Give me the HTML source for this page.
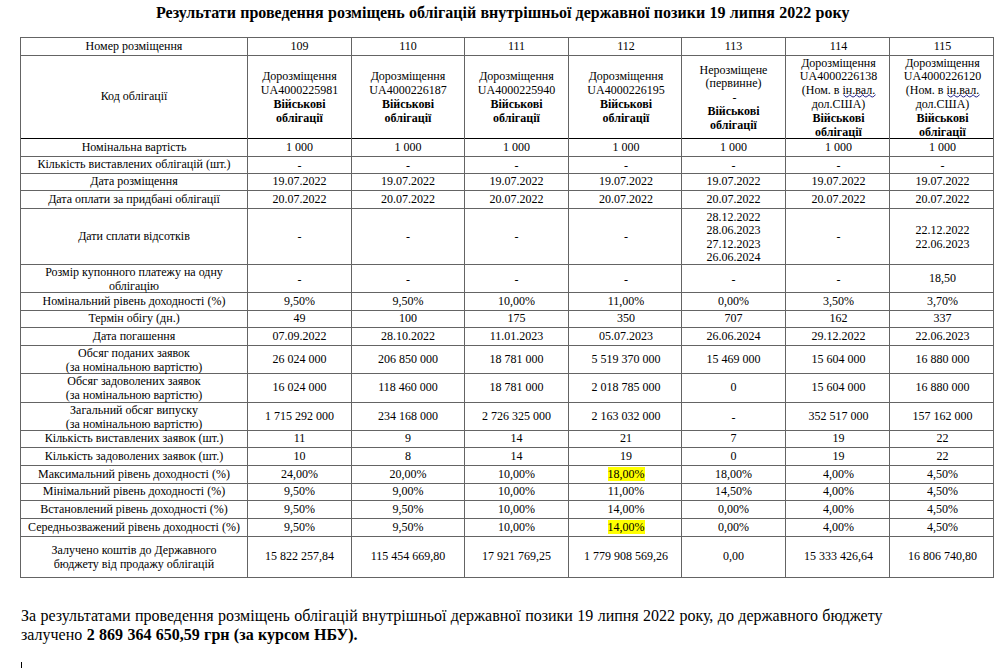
<!DOCTYPE html><html><head><meta charset='utf-8'><style>
*{margin:0;padding:0;box-sizing:border-box}
html,body{width:999px;height:668px;background:#fff;overflow:hidden}
body{position:relative;font-family:"Liberation Serif",serif;color:#000}
.t{position:absolute;left:156px;top:4px;font-weight:bold;font-size:16px;white-space:nowrap;word-spacing:0.27px}
.h,.v{position:absolute;background:#646464}
.c{position:absolute;display:flex;align-items:center;justify-content:center;text-align:center;font-size:12px;line-height:13.8px;white-space:nowrap}
.hl{background:#ffff00}
.sp{position:relative}.wv{position:absolute;left:0;top:10.5px}
.p{position:absolute;left:21px;font-size:16px;line-height:18.5px;white-space:nowrap;word-spacing:0.37px}
.cur{position:absolute;left:21px;top:662px;width:1px;height:6px;background:#000}
</style></head><body>
<div class=t>Результати проведення розміщень облігацій внутрішньої державної позики 19 липня 2022 року</div>
<div class=h style='left:20px;top:37px;width:974px;height:1px;background:#646464'></div>
<div class=h style='left:20px;top:55px;width:974px;height:1px;background:#646464'></div>
<div class=h style='left:20px;top:138px;width:974px;height:1px;background:#000'></div>
<div class=h style='left:20px;top:156px;width:974px;height:1px;background:#646464'></div>
<div class=h style='left:20px;top:173px;width:974px;height:1px;background:#646464'></div>
<div class=h style='left:20px;top:190px;width:974px;height:1px;background:#646464'></div>
<div class=h style='left:20px;top:208px;width:974px;height:1px;background:#646464'></div>
<div class=h style='left:20px;top:264px;width:974px;height:1px;background:#646464'></div>
<div class=h style='left:20px;top:292px;width:974px;height:1px;background:#646464'></div>
<div class=h style='left:20px;top:310px;width:974px;height:1px;background:#646464'></div>
<div class=h style='left:20px;top:327px;width:974px;height:1px;background:#646464'></div>
<div class=h style='left:20px;top:345px;width:974px;height:1px;background:#646464'></div>
<div class=h style='left:20px;top:373px;width:974px;height:1px;background:#646464'></div>
<div class=h style='left:20px;top:402px;width:974px;height:1px;background:#646464'></div>
<div class=h style='left:20px;top:430px;width:974px;height:1px;background:#646464'></div>
<div class=h style='left:20px;top:447px;width:974px;height:1px;background:#646464'></div>
<div class=h style='left:20px;top:465px;width:974px;height:1px;background:#646464'></div>
<div class=h style='left:20px;top:483px;width:974px;height:1px;background:#646464'></div>
<div class=h style='left:20px;top:500px;width:974px;height:1px;background:#646464'></div>
<div class=h style='left:20px;top:518px;width:974px;height:1px;background:#646464'></div>
<div class=h style='left:20px;top:536px;width:974px;height:1px;background:#646464'></div>
<div class=h style='left:20px;top:577px;width:974px;height:1px;background:#646464'></div>
<div class=v style='left:20px;top:37px;width:1px;height:541px'></div>
<div class=v style='left:247px;top:37px;width:1px;height:541px'></div>
<div class=v style='left:351px;top:37px;width:1px;height:541px'></div>
<div class=v style='left:464px;top:37px;width:1px;height:541px'></div>
<div class=v style='left:568px;top:37px;width:1px;height:541px'></div>
<div class=v style='left:681px;top:37px;width:1px;height:541px'></div>
<div class=v style='left:785px;top:37px;width:1px;height:541px'></div>
<div class=v style='left:889px;top:37px;width:1px;height:541px'></div>
<div class=v style='left:993px;top:37px;width:1px;height:541px'></div>
<div class=c style='left:21px;top:38px;width:226px;height:17px'><div>Номер розміщення</div></div>
<div class=c style='left:248px;top:38px;width:103px;height:17px'><div>109</div></div>
<div class=c style='left:352px;top:38px;width:112px;height:17px'><div>110</div></div>
<div class=c style='left:465px;top:38px;width:103px;height:17px'><div>111</div></div>
<div class=c style='left:570px;top:38px;width:112px;height:17px'><div>112</div></div>
<div class=c style='left:682px;top:38px;width:103px;height:17px'><div>113</div></div>
<div class=c style='left:787px;top:38px;width:103px;height:17px'><div>114</div></div>
<div class=c style='left:891px;top:38px;width:103px;height:17px'><div>115</div></div>
<div class=c style='left:21px;top:56px;width:226px;height:82px'><div>Код облігації</div></div>
<div class=c style='left:248px;top:57px;width:103px;height:82px'><div>Дорозміщення<br>UA4000225981<br><b>Військові<br>облігації</b></div></div>
<div class=c style='left:352px;top:57px;width:112px;height:82px'><div>Дорозміщення<br>UA4000226187<br><b>Військові<br>облігації</b></div></div>
<div class=c style='left:465px;top:57px;width:103px;height:82px'><div>Дорозміщення<br>UA4000225940<br><b>Військові<br>облігації</b></div></div>
<div class=c style='left:570px;top:57px;width:112px;height:82px'><div>Дорозміщення<br>UA4000226195<br><b>Військові<br>облігації</b></div></div>
<div class=c style='left:682px;top:57px;width:103px;height:82px'><div>Нерозміщене<br>(первинне)<br><span style='position:relative;top:1px;left:1px'>-</span><br><b>Військові<br>облігації</b></div></div>
<div class=c style='left:787px;top:57px;width:103px;height:82px'><div>Дорозміщення<br>UA4000226138<br>(Ном. в <span class=sp>ін.вал.<svg class=wv width='33' height='5' viewBox='0 0 33 5' style='width:33px;height:5px'><path d='M0.5 0.6 Q3.7 5.4 6.9 0.6 Q10.1 5.4 13.3 0.6 Q16.5 5.4 19.7 0.6 Q22.9 5.4 26.1 0.6 Q29.3 5.4 32.5 0.6' fill='none' stroke='#22228a' stroke-width='1'/></svg></span><br>дол.США)<br><b>Військові<br>облігації</b></div></div>
<div class=c style='left:891px;top:57px;width:103px;height:82px'><div>Дорозміщення<br>UA4000226120<br>(Ном. в <span class=sp>ін.вал.<svg class=wv width='33' height='5' viewBox='0 0 33 5' style='width:33px;height:5px'><path d='M0.5 0.6 Q3.7 5.4 6.9 0.6 Q10.1 5.4 13.3 0.6 Q16.5 5.4 19.7 0.6 Q22.9 5.4 26.1 0.6 Q29.3 5.4 32.5 0.6' fill='none' stroke='#22228a' stroke-width='1'/></svg></span><br>дол.США)<br><b>Військові<br>облігації</b></div></div>
<div class=c style='left:21px;top:139px;width:226px;height:17px'><div>Номінальна вартість</div></div>
<div class=c style='left:248px;top:139px;width:103px;height:17px'><div>1 000</div></div>
<div class=c style='left:352px;top:139px;width:112px;height:17px'><div>1 000</div></div>
<div class=c style='left:465px;top:139px;width:103px;height:17px'><div>1 000</div></div>
<div class=c style='left:570px;top:139px;width:112px;height:17px'><div>1 000</div></div>
<div class=c style='left:682px;top:139px;width:103px;height:17px'><div>1 000</div></div>
<div class=c style='left:787px;top:139px;width:103px;height:17px'><div>1 000</div></div>
<div class=c style='left:891px;top:139px;width:103px;height:17px'><div>1 000</div></div>
<div class=c style='left:21px;top:157px;width:226px;height:16px'><div>Кількість виставлених облігацій (шт.)</div></div>
<div class=c style='left:248px;top:159px;width:103px;height:16px'><div>-</div></div>
<div class=c style='left:352px;top:159px;width:112px;height:16px'><div>-</div></div>
<div class=c style='left:465px;top:159px;width:103px;height:16px'><div>-</div></div>
<div class=c style='left:570px;top:159px;width:112px;height:16px'><div>-</div></div>
<div class=c style='left:682px;top:159px;width:103px;height:16px'><div>-</div></div>
<div class=c style='left:787px;top:159px;width:103px;height:16px'><div>-</div></div>
<div class=c style='left:891px;top:159px;width:103px;height:16px'><div>-</div></div>
<div class=c style='left:21px;top:174px;width:226px;height:16px'><div>Дата розміщення</div></div>
<div class=c style='left:248px;top:174px;width:103px;height:16px'><div>19.07.2022</div></div>
<div class=c style='left:352px;top:174px;width:112px;height:16px'><div>19.07.2022</div></div>
<div class=c style='left:465px;top:174px;width:103px;height:16px'><div>19.07.2022</div></div>
<div class=c style='left:570px;top:174px;width:112px;height:16px'><div>19.07.2022</div></div>
<div class=c style='left:682px;top:174px;width:103px;height:16px'><div>19.07.2022</div></div>
<div class=c style='left:787px;top:174px;width:103px;height:16px'><div>19.07.2022</div></div>
<div class=c style='left:891px;top:174px;width:103px;height:16px'><div>19.07.2022</div></div>
<div class=c style='left:21px;top:191px;width:226px;height:17px'><div>Дата оплати за придбані облігації</div></div>
<div class=c style='left:248px;top:191px;width:103px;height:17px'><div>20.07.2022</div></div>
<div class=c style='left:352px;top:191px;width:112px;height:17px'><div>20.07.2022</div></div>
<div class=c style='left:465px;top:191px;width:103px;height:17px'><div>20.07.2022</div></div>
<div class=c style='left:570px;top:191px;width:112px;height:17px'><div>20.07.2022</div></div>
<div class=c style='left:682px;top:191px;width:103px;height:17px'><div>20.07.2022</div></div>
<div class=c style='left:787px;top:191px;width:103px;height:17px'><div>20.07.2022</div></div>
<div class=c style='left:891px;top:191px;width:103px;height:17px'><div>20.07.2022</div></div>
<div class=c style='left:21px;top:209px;width:226px;height:55px'><div>Дати сплати відсотків</div></div>
<div class=c style='left:248px;top:210px;width:103px;height:55px'><div>-</div></div>
<div class=c style='left:352px;top:210px;width:112px;height:55px'><div>-</div></div>
<div class=c style='left:465px;top:210px;width:103px;height:55px'><div>-</div></div>
<div class=c style='left:570px;top:210px;width:112px;height:55px'><div>-</div></div>
<div class=c style='left:682px;top:210px;width:103px;height:55px'><div><div style='line-height:13.4px'>28.12.2022<br>28.06.2023<br>27.12.2023<br>26.06.2024</div></div></div>
<div class=c style='left:787px;top:210px;width:103px;height:55px'><div>-</div></div>
<div class=c style='left:891px;top:210px;width:103px;height:55px'><div><div style='line-height:13.2px'>22.12.2022<br>22.06.2023</div></div></div>
<div class=c style='left:21px;top:266px;width:226px;height:27px'><div>Розмір купонного платежу на одну<br>облігацію</div></div>
<div class=c style='left:248px;top:267px;width:103px;height:27px'><div>-</div></div>
<div class=c style='left:352px;top:267px;width:112px;height:27px'><div>-</div></div>
<div class=c style='left:465px;top:267px;width:103px;height:27px'><div>-</div></div>
<div class=c style='left:570px;top:267px;width:112px;height:27px'><div>-</div></div>
<div class=c style='left:682px;top:267px;width:103px;height:27px'><div>-</div></div>
<div class=c style='left:787px;top:267px;width:103px;height:27px'><div>-</div></div>
<div class=c style='left:891px;top:265px;width:103px;height:27px'><div>18,50</div></div>
<div class=c style='left:21px;top:293px;width:226px;height:17px'><div>Номінальний рівень доходності (%)</div></div>
<div class=c style='left:248px;top:293px;width:103px;height:17px'><div>9,50%</div></div>
<div class=c style='left:352px;top:293px;width:112px;height:17px'><div>9,50%</div></div>
<div class=c style='left:465px;top:293px;width:103px;height:17px'><div>10,00%</div></div>
<div class=c style='left:570px;top:293px;width:112px;height:17px'><div>11,00%</div></div>
<div class=c style='left:682px;top:293px;width:103px;height:17px'><div>0,00%</div></div>
<div class=c style='left:787px;top:293px;width:103px;height:17px'><div>3,50%</div></div>
<div class=c style='left:891px;top:293px;width:103px;height:17px'><div>3,70%</div></div>
<div class=c style='left:21px;top:311px;width:226px;height:16px'><div>Термін обігу (дн.)</div></div>
<div class=c style='left:248px;top:311px;width:103px;height:16px'><div>49</div></div>
<div class=c style='left:352px;top:311px;width:112px;height:16px'><div>100</div></div>
<div class=c style='left:465px;top:311px;width:103px;height:16px'><div>175</div></div>
<div class=c style='left:570px;top:311px;width:112px;height:16px'><div>350</div></div>
<div class=c style='left:682px;top:311px;width:103px;height:16px'><div>707</div></div>
<div class=c style='left:787px;top:311px;width:103px;height:16px'><div>162</div></div>
<div class=c style='left:891px;top:311px;width:103px;height:16px'><div>337</div></div>
<div class=c style='left:21px;top:328px;width:226px;height:17px'><div>Дата погашення</div></div>
<div class=c style='left:248px;top:328px;width:103px;height:17px'><div>07.09.2022</div></div>
<div class=c style='left:352px;top:328px;width:112px;height:17px'><div>28.10.2022</div></div>
<div class=c style='left:465px;top:328px;width:103px;height:17px'><div>11.01.2023</div></div>
<div class=c style='left:570px;top:328px;width:112px;height:17px'><div>05.07.2023</div></div>
<div class=c style='left:682px;top:328px;width:103px;height:17px'><div>26.06.2024</div></div>
<div class=c style='left:787px;top:328px;width:103px;height:17px'><div>29.12.2022</div></div>
<div class=c style='left:891px;top:328px;width:103px;height:17px'><div>22.06.2023</div></div>
<div class=c style='left:21px;top:347px;width:226px;height:27px'><div>Обсяг поданих заявок<br>(за номінальною вартістю)</div></div>
<div class=c style='left:248px;top:346px;width:103px;height:27px'><div>26 024 000</div></div>
<div class=c style='left:352px;top:346px;width:112px;height:27px'><div>206 850 000</div></div>
<div class=c style='left:465px;top:346px;width:103px;height:27px'><div>18 781 000</div></div>
<div class=c style='left:570px;top:346px;width:112px;height:27px'><div>5 519 370 000</div></div>
<div class=c style='left:682px;top:346px;width:103px;height:27px'><div>15 469 000</div></div>
<div class=c style='left:787px;top:346px;width:103px;height:27px'><div>15 604 000</div></div>
<div class=c style='left:891px;top:346px;width:103px;height:27px'><div>16 880 000</div></div>
<div class=c style='left:21px;top:375px;width:226px;height:28px'><div>Обсяг задоволених заявок<br>(за номінальною вартістю)</div></div>
<div class=c style='left:248px;top:374px;width:103px;height:28px'><div>16 024 000</div></div>
<div class=c style='left:352px;top:374px;width:112px;height:28px'><div>118 460 000</div></div>
<div class=c style='left:465px;top:374px;width:103px;height:28px'><div>18 781 000</div></div>
<div class=c style='left:570px;top:374px;width:112px;height:28px'><div>2 018 785 000</div></div>
<div class=c style='left:682px;top:374px;width:103px;height:28px'><div>0</div></div>
<div class=c style='left:787px;top:374px;width:103px;height:28px'><div>15 604 000</div></div>
<div class=c style='left:891px;top:374px;width:103px;height:28px'><div>16 880 000</div></div>
<div class=c style='left:21px;top:404px;width:226px;height:27px'><div>Загальний обсяг випуску<br>(за номінальною вартістю)</div></div>
<div class=c style='left:248px;top:403px;width:103px;height:27px'><div>1 715 292 000</div></div>
<div class=c style='left:352px;top:403px;width:112px;height:27px'><div>234 168 000</div></div>
<div class=c style='left:465px;top:403px;width:103px;height:27px'><div>2 726 325 000</div></div>
<div class=c style='left:570px;top:403px;width:112px;height:27px'><div>2 163 032 000</div></div>
<div class=c style='left:682px;top:405px;width:103px;height:27px'><div>-</div></div>
<div class=c style='left:787px;top:403px;width:103px;height:27px'><div>352 517 000</div></div>
<div class=c style='left:891px;top:403px;width:103px;height:27px'><div>157 162 000</div></div>
<div class=c style='left:21px;top:431px;width:226px;height:16px'><div>Кількість виставлених заявок (шт.)</div></div>
<div class=c style='left:248px;top:431px;width:103px;height:16px'><div>11</div></div>
<div class=c style='left:352px;top:431px;width:112px;height:16px'><div>9</div></div>
<div class=c style='left:465px;top:431px;width:103px;height:16px'><div>14</div></div>
<div class=c style='left:570px;top:431px;width:112px;height:16px'><div>21</div></div>
<div class=c style='left:682px;top:431px;width:103px;height:16px'><div>7</div></div>
<div class=c style='left:787px;top:431px;width:103px;height:16px'><div>19</div></div>
<div class=c style='left:891px;top:431px;width:103px;height:16px'><div>22</div></div>
<div class=c style='left:21px;top:448px;width:226px;height:17px'><div>Кількість задоволених заявок (шт.)</div></div>
<div class=c style='left:248px;top:448px;width:103px;height:17px'><div>10</div></div>
<div class=c style='left:352px;top:448px;width:112px;height:17px'><div>8</div></div>
<div class=c style='left:465px;top:448px;width:103px;height:17px'><div>14</div></div>
<div class=c style='left:570px;top:448px;width:112px;height:17px'><div>19</div></div>
<div class=c style='left:682px;top:448px;width:103px;height:17px'><div>0</div></div>
<div class=c style='left:787px;top:448px;width:103px;height:17px'><div>19</div></div>
<div class=c style='left:891px;top:448px;width:103px;height:17px'><div>22</div></div>
<div class=c style='left:21px;top:466px;width:226px;height:17px'><div>Максимальний рівень доходності (%)</div></div>
<div class=c style='left:248px;top:466px;width:103px;height:17px'><div>24,00%</div></div>
<div class=c style='left:352px;top:466px;width:112px;height:17px'><div>20,00%</div></div>
<div class=c style='left:465px;top:466px;width:103px;height:17px'><div>10,00%</div></div>
<div class=c style='left:570px;top:466px;width:112px;height:17px'><div><span class=hl>18,00%</span></div></div>
<div class=c style='left:682px;top:466px;width:103px;height:17px'><div>18,00%</div></div>
<div class=c style='left:787px;top:466px;width:103px;height:17px'><div>4,00%</div></div>
<div class=c style='left:891px;top:466px;width:103px;height:17px'><div>4,50%</div></div>
<div class=c style='left:21px;top:484px;width:226px;height:16px'><div>Мінімальний рівень доходності (%)</div></div>
<div class=c style='left:248px;top:484px;width:103px;height:16px'><div>9,50%</div></div>
<div class=c style='left:352px;top:484px;width:112px;height:16px'><div>9,00%</div></div>
<div class=c style='left:465px;top:484px;width:103px;height:16px'><div>10,00%</div></div>
<div class=c style='left:570px;top:484px;width:112px;height:16px'><div>11,00%</div></div>
<div class=c style='left:682px;top:484px;width:103px;height:16px'><div>14,50%</div></div>
<div class=c style='left:787px;top:484px;width:103px;height:16px'><div>4,00%</div></div>
<div class=c style='left:891px;top:484px;width:103px;height:16px'><div>4,50%</div></div>
<div class=c style='left:21px;top:501px;width:226px;height:17px'><div>Встановлений рівень доходності (%)</div></div>
<div class=c style='left:248px;top:501px;width:103px;height:17px'><div>9,50%</div></div>
<div class=c style='left:352px;top:501px;width:112px;height:17px'><div>9,50%</div></div>
<div class=c style='left:465px;top:501px;width:103px;height:17px'><div>10,00%</div></div>
<div class=c style='left:570px;top:501px;width:112px;height:17px'><div>14,00%</div></div>
<div class=c style='left:682px;top:501px;width:103px;height:17px'><div>0,00%</div></div>
<div class=c style='left:787px;top:501px;width:103px;height:17px'><div>4,00%</div></div>
<div class=c style='left:891px;top:501px;width:103px;height:17px'><div>4,50%</div></div>
<div class=c style='left:21px;top:519px;width:226px;height:17px'><div>Середньозважений рівень доходності (%)</div></div>
<div class=c style='left:248px;top:519px;width:103px;height:17px'><div>9,50%</div></div>
<div class=c style='left:352px;top:519px;width:112px;height:17px'><div>9,50%</div></div>
<div class=c style='left:465px;top:519px;width:103px;height:17px'><div>10,00%</div></div>
<div class=c style='left:570px;top:519px;width:112px;height:17px'><div><span class=hl>14,00%</span></div></div>
<div class=c style='left:682px;top:519px;width:103px;height:17px'><div>0,00%</div></div>
<div class=c style='left:787px;top:519px;width:103px;height:17px'><div>4,00%</div></div>
<div class=c style='left:891px;top:519px;width:103px;height:17px'><div>4,50%</div></div>
<div class=c style='left:21px;top:538px;width:226px;height:40px'><div>Залучено коштів до Державного<br>бюджету від продажу облігацій</div></div>
<div class=c style='left:248px;top:537px;width:103px;height:40px'><div>15 822 257,84</div></div>
<div class=c style='left:352px;top:537px;width:112px;height:40px'><div>115 454 669,80</div></div>
<div class=c style='left:465px;top:537px;width:103px;height:40px'><div>17 921 769,25</div></div>
<div class=c style='left:570px;top:537px;width:112px;height:40px'><div>1 779 908 569,26</div></div>
<div class=c style='left:682px;top:537px;width:103px;height:40px'><div>0,00</div></div>
<div class=c style='left:787px;top:537px;width:103px;height:40px'><div>15 333 426,64</div></div>
<div class=c style='left:891px;top:537px;width:103px;height:40px'><div>16 806 740,80</div></div>
<div class=p style='top:607px'>За результатами проведення розміщень облігацій внутрішньої державної позики 19 липня 2022 року, до державного бюджету<br>залучено <b>2 869 364 650,59 грн (за курсом НБУ).</b></div>
<div class=cur></div>
</body></html>
